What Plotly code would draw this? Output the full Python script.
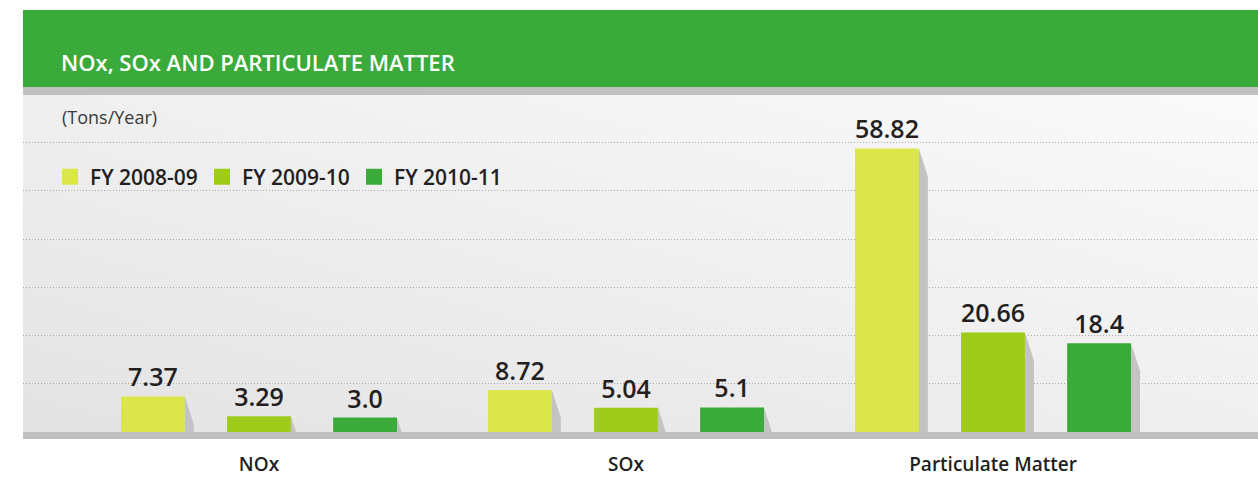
import base64
import plotly.graph_objects as go

categories = ["NOx", "SOx", "Particulate Matter"]
series_names = ["FY 2008-09", "FY 2009-10", "FY 2010-11"]
fy_2008_09 = [7.37, 8.72, 58.82]
fy_2009_10 = [3.29, 5.04, 20.66]
fy_2010_11 = [3.0, 5.1, 18.4]
value_labels = [
    ["7.37", "8.72", "58.82"],
    ["3.29", "5.04", "20.66"],
    ["3.0", "5.1", "18.4"],
]

colors = ["#dbe64b", "#9fcb1b", "#3aaa3a"]
header_green = "#3aaa3a"
shadow_gray = "#c3c3c3"
text_dark = "#231f20"

W, H = 1258, 477
M_L, M_R, M_T, M_B = 23, 0, 95, 45
Y_MAX = 69.9

x_pos = list(range(len(categories)))
bargap = 0.133
bargroupgap = 0.398
slot = (1 - bargap) / 3
bar_w = slot * (1 - bargroupgap)

fig = go.Figure()

series = [fy_2008_09, fy_2009_10, fy_2010_11]
for name, vals, col, labels in zip(series_names, series, colors, value_labels):
    fig.add_trace(go.Bar(
        x=x_pos,
        y=vals,
        name=name,
        marker=dict(color=col, line=dict(width=0)),
        text=labels,
        textposition="outside",
        constraintext="none",
        cliponaxis=False,
        textfont=dict(family="Open Sans", size=25, color=text_dark, weight=600),
        showlegend=False,
        hoverinfo="skip",
    ))

# drop shadows to the right of each bar (slanted top)
plot_w = W - M_L - M_R
plot_h = H - M_T - M_B
x_span = 3.365
d = 9 / plot_w * x_span
s = 28 / plot_h * Y_MAX
sx, sy = [], []
for j, vals in enumerate(series):
    for i, v in enumerate(vals):
        center = i + (j - 1) * slot
        xr = center + bar_w / 2
        if v > s:
            sx += [xr, xr + d, xr + d, xr, xr, None]
            sy += [v, v - s, 0, 0, v, None]
        else:
            sx += [xr, xr + d * v / s, xr, xr, None]
            sy += [v, 0, 0, v, None]
fig.add_trace(go.Scatter(
    x=sx, y=sy, mode="lines", fill="toself",
    fillcolor=shadow_gray, line=dict(width=0, color=shadow_gray),
    showlegend=False, hoverinfo="skip",
))

# legend proxies (bigger square swatches)
for name, col in zip(series_names, colors):
    fig.add_trace(go.Scatter(
        x=[None], y=[None], mode="markers", name=name,
        marker=dict(symbol="square", size=16, color=col, line=dict(width=0)),
    ))

svg = (
    '<svg xmlns="http://www.w3.org/2000/svg" width="1235" height="337">'
    '<defs><linearGradient id="g" x1="0" y1="1" x2="1" y2="0">'
    '<stop offset="0" stop-color="#e3e3e3"/>'
    '<stop offset="0.5" stop-color="#efefef"/>'
    '<stop offset="1" stop-color="#fafafa"/>'
    '</linearGradient></defs>'
    '<rect width="1235" height="337" fill="url(#g)"/></svg>'
)
bg_src = "data:image/svg+xml;base64," + base64.b64encode(svg.encode()).decode()

fig.update_layout(
    width=W, height=H,
    margin=dict(l=M_L, r=M_R, t=M_T, b=M_B, pad=0, autoexpand=False),
    paper_bgcolor="white",
    plot_bgcolor="rgba(0,0,0,0)",
    barmode="group",
    bargap=bargap,
    bargroupgap=bargroupgap,
    font=dict(family="Open Sans", color=text_dark),
    images=[dict(
        source=bg_src, xref="paper", yref="paper", x=0, y=1,
        sizex=1, sizey=1, sizing="stretch", xanchor="left", yanchor="top",
        layer="below",
    )],
    showlegend=True,
    legend=dict(
        orientation="h", x=(50 - M_L) / plot_w, xanchor="left",
        y=(H - M_B - 177) / plot_h, yanchor="middle",
        bgcolor="rgba(0,0,0,0)", borderwidth=0,
        font=dict(family="Open Sans", size=21, color=text_dark, weight=600),
        entrywidth=107, entrywidthmode="pixels",
        traceorder="normal",
    ),
    xaxis=dict(
        range=[-0.643, 2.722],
        tickmode="array", tickvals=x_pos, ticktext=categories,
        showgrid=False, zeroline=False, showline=False,
        ticks="", ticklabelstandoff=19, automargin=False,
        tickfont=dict(family="Open Sans", size=19, color=text_dark, weight=600),
        fixedrange=True,
    ),
    yaxis=dict(
        range=[0, Y_MAX], dtick=10,
        showgrid=True, gridcolor="#a8a8a8", griddash="1px,2px", gridwidth=1,
        zeroline=False, showticklabels=False, ticks="", automargin=False,
        fixedrange=True,
    ),
    shapes=[
        dict(type="rect", xref="paper", yref="paper",
             x0=0, x1=1, y0=(H - M_B - 87) / plot_h, y1=(H - M_B - 10) / plot_h,
             fillcolor=header_green, line=dict(width=0), layer="above"),
        dict(type="rect", xref="paper", yref="paper",
             x0=0, x1=1, y0=1, y1=(H - M_B - 87) / plot_h,
             fillcolor="#c0c0c0", line=dict(width=0), layer="above"),
        # baseline band
        dict(type="rect", xref="paper", yref="paper",
             x0=0, x1=1, y0=-7 / plot_h, y1=0,
             fillcolor="#c0c0c0", line=dict(width=0), layer="above"),
    ],
    annotations=[
        dict(text="NOx, SOx AND PARTICULATE MATTER", xref="paper", yref="paper",
             x=(59 - M_L) / plot_w, y=(H - M_B - 62) / plot_h,
             xanchor="left", yanchor="middle", showarrow=False,
             font=dict(family="Open Sans", size=22, color="white", weight=600)),
        dict(text="(Tons/Year)", xref="paper", yref="paper",
             x=(60 - M_L) / plot_w, y=(H - M_B - 117) / plot_h,
             xanchor="left", yanchor="middle", showarrow=False,
             font=dict(family="Open Sans", size=18, color="#3a3a3a")),
    ],
)

fig.write_html("out.html", config={"displayModeBar": False},
               post_script="document.body.style.margin='0';")
